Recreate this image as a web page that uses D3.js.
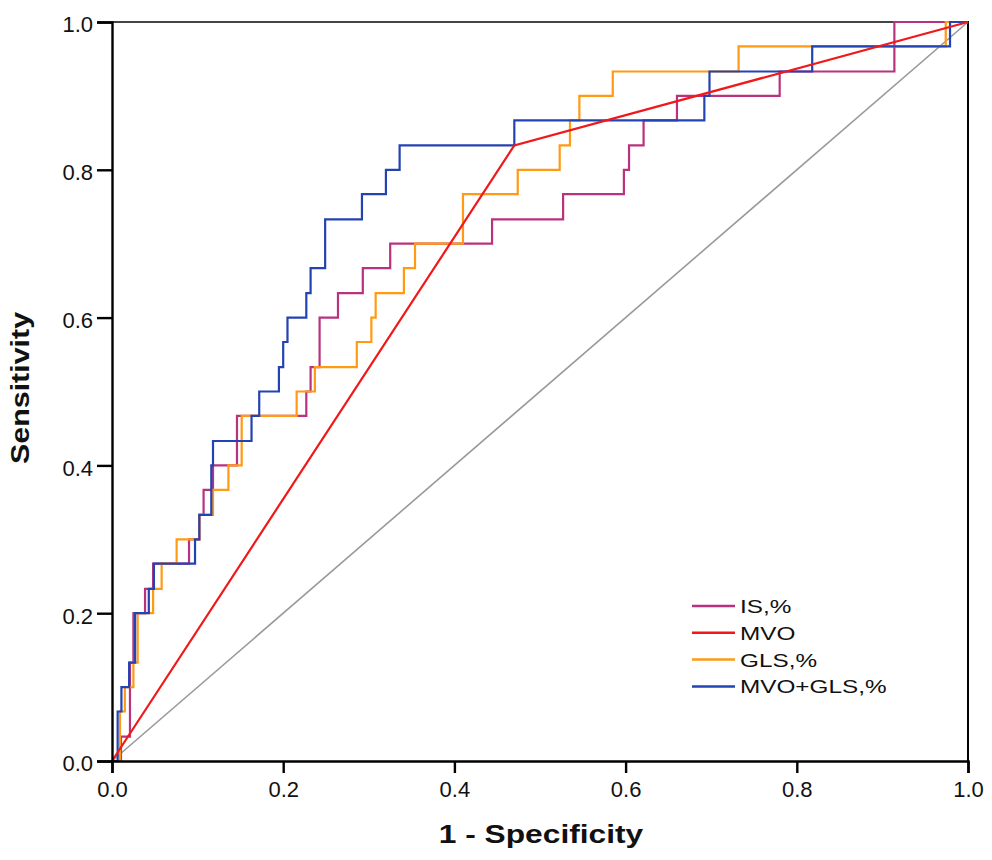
<!DOCTYPE html>
<html>
<head>
<meta charset="utf-8">
<script src="https://cdn.jsdelivr.net/npm/d3@7"></script>
<style>
	html, body { margin: 0; padding: 0; background: #ffffff; }
	svg { display: block; font-family: "Liberation Sans", Arial, sans-serif; }
</style>
</head>
<body>
<svg class="roc" width="992" height="860"></svg>
<script>
// ROC points: [1 - specificity, sensitivity] after each rise
var seriesNames = ["IS,%", "MVO", "GLS,%", "MVO+GLS,%"];

var isPoints = [
	[0, 0], [0.0105, 0.033], [0.021, 0.133], [0.025, 0.200], [0.0386, 0.233],
	[0.048, 0.267], [0.090, 0.300], [0.102, 0.333], [0.107, 0.367], [0.118, 0.400],
	[0.146, 0.467], [0.227, 0.500], [0.232, 0.533], [0.2425, 0.600], [0.264, 0.633],
	[0.293, 0.667], [0.325, 0.700], [0.444, 0.733], [0.527, 0.767], [0.598, 0.800],
	[0.604, 0.833], [0.621, 0.867], [0.660, 0.900], [0.780, 0.933], [0.914, 1.000],
	[1, 1]
];

var mvoPoints = [[0, 0], [0.470, 0.833], [1, 1]];

var glsPoints = [
	[0, 0], [0.0093, 0.067], [0.015, 0.100], [0.025, 0.133], [0.030, 0.200],
	[0.048, 0.233], [0.058, 0.267], [0.0755, 0.300], [0.102, 0.333], [0.118, 0.367],
	[0.136, 0.400], [0.1515, 0.467], [0.2157, 0.500], [0.237, 0.533], [0.286, 0.567],
	[0.303, 0.600], [0.308, 0.633], [0.341, 0.667], [0.354, 0.700], [0.410, 0.767],
	[0.474, 0.800], [0.523, 0.833], [0.535, 0.867], [0.546, 0.900], [0.585, 0.933],
	[0.732, 0.967], [0.974, 1.000], [1, 1]
];

var comboPoints = [
	[0, 0], [0.0066, 0.067], [0.011, 0.100], [0.020, 0.133], [0.027, 0.200],
	[0.043, 0.233], [0.049, 0.267], [0.097, 0.300], [0.102, 0.333], [0.116, 0.400],
	[0.118, 0.433], [0.163, 0.467], [0.172, 0.500], [0.195, 0.533], [0.200, 0.567],
	[0.205, 0.600], [0.227, 0.633], [0.232, 0.667], [0.249, 0.733], [0.292, 0.767],
	[0.320, 0.800], [0.336, 0.833], [0.470, 0.867], [0.692, 0.900], [0.698, 0.933],
	[0.818, 0.967], [0.979, 1.000], [1, 1]
];

var diagonalPoints = [[0, 0], [1, 1]];

var tickValues = [0, 0.2, 0.4, 0.6, 0.8, 1.0];

var colors = {
	"IS,%": "#b8327e",
	"MVO": "#f01818",
	"GLS,%": "#ff9a12",
	"MVO+GLS,%": "#2443b2"
};

var svg = d3.select(".roc");

var x = d3.scaleLinear().domain([0, 1]).range([112, 968]);
var y = d3.scaleLinear().domain([0, 1]).range([761, 22]);

// frame: top and right edges
svg.append("line")
	.attr("x1", x(0)).attr("x2", x(1))
	.attr("y1", y(1)).attr("y2", y(1))
	.attr("stroke", "#444").attr("stroke-width", 2);
svg.append("line")
	.attr("x1", x(1)).attr("x2", x(1))
	.attr("y1", y(1) - 1).attr("y2", y(0))
	.attr("stroke", "#000").attr("stroke-width", 2);

var stepLine = d3.line()
	.x(function (d) { return x(d[0]); })
	.y(function (d) { return y(d[1]); })
	.curve(d3.curveStepAfter);

var straightLine = d3.line()
	.x(function (d) { return x(d[0]); })
	.y(function (d) { return y(d[1]); });

var curves = svg.append("g").attr("class", "curves")
	.attr("fill", "none");

curves.append("path")
	.attr("d", straightLine(diagonalPoints))
	.attr("stroke", "#9a9a9a")
	.attr("stroke-width", 1.6);

curves.append("path")
	.attr("d", stepLine(isPoints))
	.attr("stroke", colors["IS,%"])
	.attr("stroke-width", 2.2);

curves.append("path")
	.attr("d", stepLine(glsPoints))
	.attr("stroke", colors["GLS,%"])
	.attr("stroke-width", 2.2);

curves.append("path")
	.attr("d", stepLine(comboPoints))
	.attr("stroke", colors["MVO+GLS,%"])
	.attr("stroke-width", 2.2);

curves.append("path")
	.attr("d", straightLine(mvoPoints))
	.attr("stroke", colors["MVO"])
	.attr("stroke-width", 2.2);

// axes
var xAxis = svg.append("g")
	.attr("transform", "translate(0," + y(0) + ")")
	.call(d3.axisBottom(x)
		.tickValues(tickValues)
		.tickFormat(d3.format(".1f"))
		.tickSizeOuter(0)
		.tickSize(12)
		.tickPadding(8));

var yAxis = svg.append("g")
	.attr("transform", "translate(" + x(0) + ",0)")
	.call(d3.axisLeft(y)
		.tickValues(tickValues)
		.tickFormat(d3.format(".1f"))
		.tickSizeOuter(0)
		.tickSize(15)
		.tickPadding(4));

[xAxis, yAxis].forEach(function (axis) {
	axis.select(".domain").attr("stroke", "#000").attr("stroke-width", 2.4);
	axis.selectAll(".tick line").attr("stroke", "#000").attr("stroke-width", 2.4);
	axis.selectAll(".tick text")
		.attr("fill", "#111")
		.style("font-family", "'Liberation Sans', Arial, sans-serif")
		.style("font-size", "22px");
});
yAxis.selectAll(".tick text").attr("dy", "0.45em");

// axis titles
svg.append("text")
	.attr("transform", "translate(541,843) scale(1.22,1)")
	.attr("text-anchor", "middle")
	.attr("font-weight", "bold")
	.attr("font-size", "26px")
	.attr("fill", "#111")
	.text("1 - Specificity");

svg.append("text")
	.attr("transform", "translate(29,388) rotate(-90) scale(1.17,1)")
	.attr("text-anchor", "middle")
	.attr("font-weight", "bold")
	.attr("font-size", "26px")
	.attr("fill", "#111")
	.text("Sensitivity");

// legend
var legend = svg.append("g").attr("class", "legend");
var rows = legend.selectAll("g")
	.data(seriesNames)
	.enter().append("g")
	.attr("transform", function (d, i) { return "translate(692," + (606 + i * 26.8) + ")"; });

rows.append("line")
	.attr("x1", 0).attr("x2", 43)
	.attr("y1", 0).attr("y2", 0)
	.attr("stroke", function (d) { return colors[d]; })
	.attr("stroke-width", 2.5);

rows.append("text")
	.attr("transform", "translate(48,7) scale(1.28,1)")
	.attr("font-size", "19px")
	.attr("fill", "#111")
	.text(function (d) { return d; });
</script>
</body>
</html>
